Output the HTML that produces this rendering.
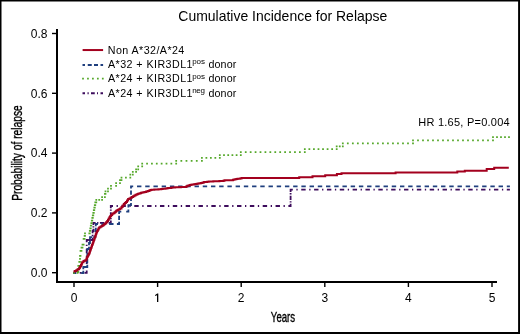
<!DOCTYPE html>
<html><head><meta charset="utf-8"><style>
html,body{margin:0;padding:0;background:#fff;}
body{width:520px;height:334px;overflow:hidden;}
svg{display:block;will-change:transform;}
text{font-family:"Liberation Sans",sans-serif;fill:#000;}
</style></head><body>
<svg width="520" height="334" viewBox="0 0 520 334">
<rect x="0" y="0" width="520" height="334" fill="#fff"/>
<path d="M0 0H520V334H0Z M1.5 1.5V332.1H518.1V1.5Z" fill="#000" fill-rule="evenodd"/>
<text x="178.3" y="20.7" font-size="14.4" textLength="209" lengthAdjust="spacingAndGlyphs">Cumulative Incidence for Relapse</text>
<!-- axes -->
<path d="M57 29 V282 H497" fill="none" stroke="#000" stroke-width="2"/>
<path d="M52 272.70 H57" stroke="#000" stroke-width="1.4"/>
<text x="47.5" y="277.00" font-size="12" text-anchor="end">0.0</text>
<path d="M52 212.90 H57" stroke="#000" stroke-width="1.4"/>
<text x="47.5" y="217.20" font-size="12" text-anchor="end">0.2</text>
<path d="M52 153.10 H57" stroke="#000" stroke-width="1.4"/>
<text x="47.5" y="157.40" font-size="12" text-anchor="end">0.4</text>
<path d="M52 93.30 H57" stroke="#000" stroke-width="1.4"/>
<text x="47.5" y="97.60" font-size="12" text-anchor="end">0.6</text>
<path d="M52 33.50 H57" stroke="#000" stroke-width="1.4"/>
<text x="47.5" y="37.80" font-size="12" text-anchor="end">0.8</text>
<path d="M74.00 282 V287" stroke="#000" stroke-width="1.4"/>
<text x="74.00" y="302" font-size="12" text-anchor="middle">0</text>
<path d="M157.60 282 V287" stroke="#000" stroke-width="1.4"/>
<path d="M158.3 293.4V302H157V295.2L155.1 296V295L157.3 293.4Z" fill="#000"/>
<path d="M241.20 282 V287" stroke="#000" stroke-width="1.4"/>
<text x="241.20" y="302" font-size="12" text-anchor="middle">2</text>
<path d="M324.80 282 V287" stroke="#000" stroke-width="1.4"/>
<text x="324.80" y="302" font-size="12" text-anchor="middle">3</text>
<path d="M408.40 282 V287" stroke="#000" stroke-width="1.4"/>
<text x="408.40" y="302" font-size="12" text-anchor="middle">4</text>
<path d="M492.00 282 V287" stroke="#000" stroke-width="1.4"/>
<text x="492.00" y="302" font-size="12" text-anchor="middle">5</text>
<text x="283" y="321.7" font-size="13.8" text-anchor="middle" stroke="#000" stroke-width="0.35" transform="translate(283 0) scale(0.70 1) translate(-283 0)">Years</text>
<text transform="translate(22.3 153.05) rotate(-90) scale(0.742 1)" x="0" y="0" font-size="13.8" text-anchor="middle" stroke="#000" stroke-width="0.35">Probability of relapse</text>
<g fill="none" stroke-linejoin="miter">
<path d="M73.10 271.90H76.20V273.70H73.10zM79.70 271.90H81.00V273.70H79.70zM84.50 271.90H87.60V273.70H84.50zM85.80 270.60H87.60V273.70H85.80zM85.80 266.68H87.60V267.98H85.80zM85.80 259.67H87.60V264.07H85.80zM85.80 255.75H87.60V257.05H85.80zM85.80 248.73H87.60V253.13H85.80zM85.80 244.82H87.60V246.12H85.80zM85.80 239.10H87.60V242.20H85.80zM85.80 239.10H88.90V240.90H85.80zM89.00 239.10H90.30V240.90H89.00zM90.40 239.10H93.50V240.90H90.40zM91.70 237.80H93.50V240.90H91.70zM91.70 234.85H93.50V236.15H91.70zM91.70 230.10H93.50V233.20H91.70zM91.70 230.10H94.30V231.90H91.70zM92.35 230.10H93.65V231.90H92.35zM91.70 230.10H94.30V231.90H91.70zM92.50 228.80H94.30V231.90H92.50zM92.50 226.25H94.30V227.55H92.50zM92.50 221.90H94.30V225.00H92.50zM92.50 221.90H95.60V223.70H92.50zM97.10 221.90H98.40V223.70H97.10zM99.90 221.90H104.30V223.70H99.90zM105.80 221.90H107.10V223.70H105.80zM108.60 221.90H111.70V223.70H108.60zM109.90 220.60H111.70V223.70H109.90zM109.90 217.95H111.70V219.25H109.90zM109.90 212.20H111.70V216.60H109.90zM109.90 209.55H111.70V210.85H109.90zM109.90 205.10H111.70V208.20H109.90zM109.90 205.10H113.00V206.90H109.90zM116.57 205.10H117.87V206.90H116.57zM121.44 205.10H125.84V206.90H121.44zM129.41 205.10H130.71V206.90H129.41zM134.29 205.10H138.69V206.90H134.29zM142.26 205.10H143.56V206.90H142.26zM147.13 205.10H151.53V206.90H147.13zM155.10 205.10H156.40V206.90H155.10zM159.97 205.10H164.37V206.90H159.97zM167.94 205.10H169.24V206.90H167.94zM172.81 205.10H177.21V206.90H172.81zM180.79 205.10H182.09V206.90H180.79zM185.66 205.10H190.06V206.90H185.66zM193.63 205.10H194.93V206.90H193.63zM198.50 205.10H202.90V206.90H198.50zM206.47 205.10H207.77V206.90H206.47zM211.34 205.10H215.74V206.90H211.34zM219.31 205.10H220.61V206.90H219.31zM224.19 205.10H228.59V206.90H224.19zM232.16 205.10H233.46V206.90H232.16zM237.03 205.10H241.43V206.90H237.03zM245.00 205.10H246.30V206.90H245.00zM249.87 205.10H254.27V206.90H249.87zM257.84 205.10H259.14V206.90H257.84zM262.71 205.10H267.11V206.90H262.71zM270.69 205.10H271.99V206.90H270.69zM275.56 205.10H279.96V206.90H275.56zM283.53 205.10H284.83V206.90H283.53zM288.40 205.10H291.50V206.90H288.40zM289.70 203.80H291.50V206.90H289.70zM289.70 201.28H291.50V202.57H289.70zM289.70 195.65H291.50V200.05H289.70zM289.70 193.12H291.50V194.42H289.70zM289.70 188.80H291.50V191.90H289.70zM289.70 188.80H292.80V190.60H289.70zM296.37 188.80H297.67V190.60H296.37zM301.25 188.80H305.65V190.60H301.25zM309.22 188.80H310.52V190.60H309.22zM314.09 188.80H318.49V190.60H314.09zM322.07 188.80H323.37V190.60H322.07zM326.94 188.80H331.34V190.60H326.94zM334.91 188.80H336.21V190.60H334.91zM339.79 188.80H344.19V190.60H339.79zM347.76 188.80H349.06V190.60H347.76zM352.64 188.80H357.04V190.60H352.64zM360.61 188.80H361.91V190.60H360.61zM365.48 188.80H369.88V190.60H365.48zM373.46 188.80H374.76V190.60H373.46zM378.33 188.80H382.73V190.60H378.33zM386.30 188.80H387.60V190.60H386.30zM391.18 188.80H395.58V190.60H391.18zM399.15 188.80H400.45V190.60H399.15zM404.02 188.80H408.42V190.60H404.02zM412.00 188.80H413.30V190.60H412.00zM416.87 188.80H421.27V190.60H416.87zM424.84 188.80H426.14V190.60H424.84zM429.72 188.80H434.12V190.60H429.72zM437.69 188.80H438.99V190.60H437.69zM442.56 188.80H446.96V190.60H442.56zM450.54 188.80H451.84V190.60H450.54zM455.41 188.80H459.81V190.60H455.41zM463.39 188.80H464.69V190.60H463.39zM468.26 188.80H472.66V190.60H468.26zM476.23 188.80H477.53V190.60H476.23zM481.11 188.80H485.51V190.60H481.11zM489.08 188.80H490.38V190.60H489.08zM493.95 188.80H498.35V190.60H493.95zM501.93 188.80H503.23V190.60H501.93zM506.80 188.80H509.90V190.60H506.80z" fill="#3d0c5c" stroke="none"/>
<path d="M73.10 272.10H76.20V273.90H73.10zM81.10 272.10H84.20V273.90H81.10zM82.40 270.80H84.20V273.90H82.40zM82.40 266.10H84.20V269.20H82.40zM82.40 266.10H85.50V267.90H82.40zM85.10 266.10H88.20V267.90H85.10zM86.40 264.80H88.20V267.90H86.40zM86.40 258.80H88.20V263.20H86.40zM86.40 252.80H88.20V257.20H86.40zM86.40 248.10H88.20V251.20H86.40zM86.40 248.10H89.50V249.90H86.40zM86.80 248.10H89.90V249.90H86.80zM88.10 246.80H89.90V249.90H88.10zM88.10 242.10H89.90V245.20H88.10zM88.10 242.10H90.90V243.90H88.10zM88.10 242.10H90.90V243.90H88.10zM89.10 240.80H90.90V243.90H89.10zM89.10 236.30H90.90V239.40H89.10zM89.10 236.30H92.20V238.10H89.10zM93.20 236.30H96.30V238.10H93.20zM94.50 235.00H96.30V238.10H94.50zM94.50 229.10H96.30V232.20H94.50zM94.50 229.10H96.70V230.90H94.50zM94.50 229.10H96.70V230.90H94.50zM94.90 227.80H96.70V230.90H94.90zM94.90 223.10H96.70V226.20H94.90zM94.90 223.10H98.00V224.90H94.90zM101.37 223.10H105.77V224.90H101.37zM109.13 223.10H113.53V224.90H109.13zM116.90 223.10H120.00V224.90H116.90zM118.20 221.80H120.00V224.90H118.20zM118.20 215.65H120.00V220.05H118.20zM118.20 210.80H120.00V213.90H118.20zM118.20 210.80H121.30V212.60H118.20zM126.20 210.80H129.30V212.60H126.20zM127.50 209.50H129.30V212.60H127.50zM127.50 204.30H129.30V207.40H127.50zM127.50 204.30H130.60V206.10H127.50zM128.80 204.30H131.90V206.10H128.80zM130.10 203.00H131.90V206.10H130.10zM130.10 196.70H131.90V201.10H130.10zM130.10 190.40H131.90V194.80H130.10zM130.10 185.40H131.90V188.50H130.10zM130.10 185.40H133.20V187.20H130.10zM137.02 185.40H141.42V187.20H137.02zM145.23 185.40H149.63V187.20H145.23zM153.45 185.40H157.85V187.20H153.45zM161.67 185.40H166.07V187.20H161.67zM169.89 185.40H174.29V187.20H169.89zM178.10 185.40H182.50V187.20H178.10zM186.32 185.40H190.72V187.20H186.32zM194.54 185.40H198.94V187.20H194.54zM202.76 185.40H207.16V187.20H202.76zM210.97 185.40H215.37V187.20H210.97zM219.19 185.40H223.59V187.20H219.19zM227.41 185.40H231.81V187.20H227.41zM235.63 185.40H240.03V187.20H235.63zM243.84 185.40H248.24V187.20H243.84zM252.06 185.40H256.46V187.20H252.06zM260.28 185.40H264.68V187.20H260.28zM268.50 185.40H272.90V187.20H268.50zM276.71 185.40H281.11V187.20H276.71zM284.93 185.40H289.33V187.20H284.93zM293.15 185.40H297.55V187.20H293.15zM301.37 185.40H305.77V187.20H301.37zM309.58 185.40H313.98V187.20H309.58zM317.80 185.40H322.20V187.20H317.80zM326.02 185.40H330.42V187.20H326.02zM334.23 185.40H338.63V187.20H334.23zM342.45 185.40H346.85V187.20H342.45zM350.67 185.40H355.07V187.20H350.67zM358.89 185.40H363.29V187.20H358.89zM367.10 185.40H371.50V187.20H367.10zM375.32 185.40H379.72V187.20H375.32zM383.54 185.40H387.94V187.20H383.54zM391.76 185.40H396.16V187.20H391.76zM399.97 185.40H404.37V187.20H399.97zM408.19 185.40H412.59V187.20H408.19zM416.41 185.40H420.81V187.20H416.41zM424.63 185.40H429.03V187.20H424.63zM432.84 185.40H437.24V187.20H432.84zM441.06 185.40H445.46V187.20H441.06zM449.28 185.40H453.68V187.20H449.28zM457.50 185.40H461.90V187.20H457.50zM465.71 185.40H470.11V187.20H465.71zM473.93 185.40H478.33V187.20H473.93zM482.15 185.40H486.55V187.20H482.15zM490.37 185.40H494.77V187.20H490.37zM498.58 185.40H502.98V187.20H498.58zM506.80 185.40H509.90V187.20H506.80z" fill="#1f3f7e" stroke="none"/>
<path d="M73.12 272.12h1.75v1.75h-1.75zM76.72 272.12h1.75v1.75h-1.75zM76.72 272.12h1.75v1.75h-1.75zM76.72 271.12h1.75v1.75h-1.75zM76.72 271.12h1.75v1.75h-1.75zM77.42 271.12h1.75v1.75h-1.75zM77.42 271.12h1.75v1.75h-1.75zM77.42 268.12h1.75v1.75h-1.75zM77.42 265.12h1.75v1.75h-1.75zM77.42 265.12h1.75v1.75h-1.75zM78.42 265.12h1.75v1.75h-1.75zM78.42 265.12h1.75v1.75h-1.75zM78.42 261.12h1.75v1.75h-1.75zM78.42 261.12h1.75v1.75h-1.75zM79.12 261.12h1.75v1.75h-1.75zM79.12 261.12h1.75v1.75h-1.75zM79.12 258.12h1.75v1.75h-1.75zM79.12 255.12h1.75v1.75h-1.75zM79.12 255.12h1.75v1.75h-1.75zM79.62 255.12h1.75v1.75h-1.75zM79.62 255.12h1.75v1.75h-1.75zM79.62 250.12h1.75v1.75h-1.75zM79.62 250.12h1.75v1.75h-1.75zM80.62 250.12h1.75v1.75h-1.75zM80.62 250.12h1.75v1.75h-1.75zM80.62 246.72h1.75v1.75h-1.75zM80.62 246.72h1.75v1.75h-1.75zM81.62 246.72h1.75v1.75h-1.75zM81.62 246.72h1.75v1.75h-1.75zM81.62 243.82h1.75v1.75h-1.75zM81.62 243.82h1.75v1.75h-1.75zM82.72 243.82h1.75v1.75h-1.75zM82.72 243.82h1.75v1.75h-1.75zM82.72 238.12h1.75v1.75h-1.75zM82.72 238.12h1.75v1.75h-1.75zM83.72 238.12h1.75v1.75h-1.75zM83.72 238.12h1.75v1.75h-1.75zM83.72 235.12h1.75v1.75h-1.75zM83.72 235.12h1.75v1.75h-1.75zM84.12 235.12h1.75v1.75h-1.75zM84.12 235.12h1.75v1.75h-1.75zM84.12 232.53h1.75v1.75h-1.75zM84.12 232.53h1.75v1.75h-1.75zM88.42 232.53h1.75v1.75h-1.75zM88.42 232.53h1.75v1.75h-1.75zM88.92 232.53h1.75v1.75h-1.75zM88.92 232.53h1.75v1.75h-1.75zM88.92 229.96h1.75v1.75h-1.75zM88.92 229.96h1.75v1.75h-1.75zM89.42 229.96h1.75v1.75h-1.75zM89.42 229.96h1.75v1.75h-1.75zM89.42 227.38h1.75v1.75h-1.75zM89.42 227.38h1.75v1.75h-1.75zM89.92 227.38h1.75v1.75h-1.75zM89.92 227.38h1.75v1.75h-1.75zM89.92 224.81h1.75v1.75h-1.75zM89.92 224.81h1.75v1.75h-1.75zM90.42 224.81h1.75v1.75h-1.75zM90.42 224.81h1.75v1.75h-1.75zM90.42 222.22h1.75v1.75h-1.75zM90.42 222.22h1.75v1.75h-1.75zM90.92 222.22h1.75v1.75h-1.75zM90.92 222.22h1.75v1.75h-1.75zM90.92 219.66h1.75v1.75h-1.75zM90.92 219.66h1.75v1.75h-1.75zM91.42 219.66h1.75v1.75h-1.75zM91.42 219.66h1.75v1.75h-1.75zM91.42 217.07h1.75v1.75h-1.75zM91.42 217.07h1.75v1.75h-1.75zM91.92 217.07h1.75v1.75h-1.75zM91.92 217.07h1.75v1.75h-1.75zM91.92 214.50h1.75v1.75h-1.75zM91.92 214.50h1.75v1.75h-1.75zM92.42 214.50h1.75v1.75h-1.75zM92.42 214.50h1.75v1.75h-1.75zM92.42 211.93h1.75v1.75h-1.75zM92.42 211.93h1.75v1.75h-1.75zM92.92 211.93h1.75v1.75h-1.75zM92.92 211.93h1.75v1.75h-1.75zM92.92 209.34h1.75v1.75h-1.75zM92.92 209.34h1.75v1.75h-1.75zM93.42 209.34h1.75v1.75h-1.75zM93.42 209.34h1.75v1.75h-1.75zM93.42 206.78h1.75v1.75h-1.75zM93.42 206.78h1.75v1.75h-1.75zM93.92 206.78h1.75v1.75h-1.75zM93.92 206.78h1.75v1.75h-1.75zM93.92 204.19h1.75v1.75h-1.75zM93.92 204.19h1.75v1.75h-1.75zM94.42 204.19h1.75v1.75h-1.75zM94.42 204.19h1.75v1.75h-1.75zM94.42 201.62h1.75v1.75h-1.75zM94.42 201.62h1.75v1.75h-1.75zM95.42 201.62h1.75v1.75h-1.75zM95.42 201.62h1.75v1.75h-1.75zM95.42 199.12h1.75v1.75h-1.75zM95.42 199.12h1.75v1.75h-1.75zM98.32 199.12h1.75v1.75h-1.75zM101.22 199.12h1.75v1.75h-1.75zM101.22 199.12h1.75v1.75h-1.75zM101.22 196.32h1.75v1.75h-1.75zM101.22 196.32h1.75v1.75h-1.75zM104.03 196.32h1.75v1.75h-1.75zM104.03 196.32h1.75v1.75h-1.75zM104.03 193.03h1.75v1.75h-1.75zM104.03 193.03h1.75v1.75h-1.75zM104.62 193.03h1.75v1.75h-1.75zM104.62 193.03h1.75v1.75h-1.75zM104.62 190.53h1.75v1.75h-1.75zM104.62 190.53h1.75v1.75h-1.75zM107.12 190.53h1.75v1.75h-1.75zM107.12 190.53h1.75v1.75h-1.75zM107.12 187.82h1.75v1.75h-1.75zM107.12 187.82h1.75v1.75h-1.75zM110.12 187.82h1.75v1.75h-1.75zM110.12 187.82h1.75v1.75h-1.75zM110.12 185.12h1.75v1.75h-1.75zM110.12 185.12h1.75v1.75h-1.75zM115.22 185.12h1.75v1.75h-1.75zM115.22 185.12h1.75v1.75h-1.75zM115.22 182.32h1.75v1.75h-1.75zM115.22 182.32h1.75v1.75h-1.75zM119.12 182.32h1.75v1.75h-1.75zM119.12 182.32h1.75v1.75h-1.75zM119.12 179.32h1.75v1.75h-1.75zM119.12 179.32h1.75v1.75h-1.75zM120.62 179.32h1.75v1.75h-1.75zM120.62 179.32h1.75v1.75h-1.75zM120.62 176.82h1.75v1.75h-1.75zM120.62 176.82h1.75v1.75h-1.75zM125.03 176.82h1.75v1.75h-1.75zM129.43 176.82h1.75v1.75h-1.75zM129.43 176.82h1.75v1.75h-1.75zM129.43 173.72h1.75v1.75h-1.75zM129.43 173.72h1.75v1.75h-1.75zM131.93 173.72h1.75v1.75h-1.75zM131.93 173.72h1.75v1.75h-1.75zM131.93 171.03h1.75v1.75h-1.75zM131.93 171.03h1.75v1.75h-1.75zM135.22 171.03h1.75v1.75h-1.75zM135.22 171.03h1.75v1.75h-1.75zM135.22 168.43h1.75v1.75h-1.75zM135.22 168.43h1.75v1.75h-1.75zM137.32 168.43h1.75v1.75h-1.75zM137.32 168.43h1.75v1.75h-1.75zM137.32 165.43h1.75v1.75h-1.75zM137.32 165.43h1.75v1.75h-1.75zM141.32 165.43h1.75v1.75h-1.75zM141.32 165.43h1.75v1.75h-1.75zM141.32 162.72h1.75v1.75h-1.75zM141.32 162.72h1.75v1.75h-1.75zM146.18 162.72h1.75v1.75h-1.75zM151.04 162.72h1.75v1.75h-1.75zM155.90 162.72h1.75v1.75h-1.75zM160.75 162.72h1.75v1.75h-1.75zM165.61 162.72h1.75v1.75h-1.75zM170.47 162.72h1.75v1.75h-1.75zM175.32 162.72h1.75v1.75h-1.75zM175.32 162.72h1.75v1.75h-1.75zM175.32 159.93h1.75v1.75h-1.75zM175.32 159.93h1.75v1.75h-1.75zM180.47 159.93h1.75v1.75h-1.75zM185.60 159.93h1.75v1.75h-1.75zM190.75 159.93h1.75v1.75h-1.75zM195.88 159.93h1.75v1.75h-1.75zM201.03 159.93h1.75v1.75h-1.75zM201.03 159.93h1.75v1.75h-1.75zM201.03 157.12h1.75v1.75h-1.75zM201.03 157.12h1.75v1.75h-1.75zM205.50 157.12h1.75v1.75h-1.75zM209.98 157.12h1.75v1.75h-1.75zM214.45 157.12h1.75v1.75h-1.75zM218.93 157.12h1.75v1.75h-1.75zM218.93 157.12h1.75v1.75h-1.75zM218.93 154.22h1.75v1.75h-1.75zM218.93 154.22h1.75v1.75h-1.75zM223.12 154.22h1.75v1.75h-1.75zM227.33 154.22h1.75v1.75h-1.75zM231.53 154.22h1.75v1.75h-1.75zM235.73 154.22h1.75v1.75h-1.75zM239.93 154.22h1.75v1.75h-1.75zM239.93 154.22h1.75v1.75h-1.75zM239.93 151.32h1.75v1.75h-1.75zM239.93 151.32h1.75v1.75h-1.75zM244.85 151.32h1.75v1.75h-1.75zM249.77 151.32h1.75v1.75h-1.75zM254.69 151.32h1.75v1.75h-1.75zM259.62 151.32h1.75v1.75h-1.75zM264.54 151.32h1.75v1.75h-1.75zM269.46 151.32h1.75v1.75h-1.75zM274.39 151.32h1.75v1.75h-1.75zM279.31 151.32h1.75v1.75h-1.75zM284.23 151.32h1.75v1.75h-1.75zM289.16 151.32h1.75v1.75h-1.75zM294.08 151.32h1.75v1.75h-1.75zM299.00 151.32h1.75v1.75h-1.75zM303.93 151.32h1.75v1.75h-1.75zM303.93 151.32h1.75v1.75h-1.75zM303.93 148.22h1.75v1.75h-1.75zM303.93 148.22h1.75v1.75h-1.75zM308.48 148.22h1.75v1.75h-1.75zM313.04 148.22h1.75v1.75h-1.75zM317.60 148.22h1.75v1.75h-1.75zM322.15 148.22h1.75v1.75h-1.75zM326.71 148.22h1.75v1.75h-1.75zM331.27 148.22h1.75v1.75h-1.75zM335.82 148.22h1.75v1.75h-1.75zM335.82 148.22h1.75v1.75h-1.75zM335.82 145.43h1.75v1.75h-1.75zM335.82 145.43h1.75v1.75h-1.75zM338.88 145.43h1.75v1.75h-1.75zM341.93 145.43h1.75v1.75h-1.75zM341.93 145.43h1.75v1.75h-1.75zM341.93 142.53h1.75v1.75h-1.75zM341.93 142.53h1.75v1.75h-1.75zM346.94 142.53h1.75v1.75h-1.75zM351.95 142.53h1.75v1.75h-1.75zM356.97 142.53h1.75v1.75h-1.75zM361.98 142.53h1.75v1.75h-1.75zM367.00 142.53h1.75v1.75h-1.75zM372.01 142.53h1.75v1.75h-1.75zM377.02 142.53h1.75v1.75h-1.75zM382.04 142.53h1.75v1.75h-1.75zM387.05 142.53h1.75v1.75h-1.75zM392.07 142.53h1.75v1.75h-1.75zM397.08 142.53h1.75v1.75h-1.75zM402.10 142.53h1.75v1.75h-1.75zM407.11 142.53h1.75v1.75h-1.75zM412.12 142.53h1.75v1.75h-1.75zM412.12 142.53h1.75v1.75h-1.75zM412.12 139.53h1.75v1.75h-1.75zM412.12 139.53h1.75v1.75h-1.75zM417.12 139.53h1.75v1.75h-1.75zM422.12 139.53h1.75v1.75h-1.75zM427.12 139.53h1.75v1.75h-1.75zM432.12 139.53h1.75v1.75h-1.75zM437.12 139.53h1.75v1.75h-1.75zM442.12 139.53h1.75v1.75h-1.75zM447.12 139.53h1.75v1.75h-1.75zM452.12 139.53h1.75v1.75h-1.75zM457.12 139.53h1.75v1.75h-1.75zM462.12 139.53h1.75v1.75h-1.75zM467.12 139.53h1.75v1.75h-1.75zM472.12 139.53h1.75v1.75h-1.75zM477.12 139.53h1.75v1.75h-1.75zM482.12 139.53h1.75v1.75h-1.75zM487.12 139.53h1.75v1.75h-1.75zM492.12 139.53h1.75v1.75h-1.75zM492.12 139.53h1.75v1.75h-1.75zM492.12 136.22h1.75v1.75h-1.75zM492.12 136.22h1.75v1.75h-1.75zM496.12 136.22h1.75v1.75h-1.75zM500.12 136.22h1.75v1.75h-1.75zM504.12 136.22h1.75v1.75h-1.75zM508.12 136.22h1.75v1.75h-1.75z" fill="#55a82a" stroke="none"/>
<path d="M73.4 271.6H74.85V270.95H76.30V270.30H77.40V269.60H78.50V268.90H79.20V268.00H79.90V267.10H80.45V266.05H81.00V265.00H81.55V263.65H82.10V262.30H83.50V261.10H84.40V260.70H85.30V260.30H86.40V258.80H86.75V257.90H87.10V257.00H87.65V255.95H88.20V254.90H88.75V254.00H89.30V253.10H89.67V251.87H90.03V250.63H90.40V249.40H90.93V247.97H91.45V246.55H91.97V245.12H92.50V243.70H92.95V242.42H93.40V241.15H93.85V239.88H94.30V238.60H94.80V237.17H95.30V235.73H95.80V234.30H96.23V233.20H96.67V232.10H97.10V231.00H97.77V229.80H98.43V228.60H99.10V227.40H100.30V226.70H101.50V226.00H102.70V225.30H103.85V224.35H105.00V223.40H106.10V222.20H107.20V221.00H108.00V219.70H108.80V218.40H109.45V217.30H110.10V216.20H111.15V214.95H112.20V213.70H113.30V213.15H114.40V212.60H115.30V211.70H116.20V210.80H117.10V210.25H118.00V209.70H119.05V209.15H120.10V208.60H121.50V207.00H122.65V205.55H123.80V204.10H124.85V203.05H125.90V202.00H127.00V200.55H128.10V199.10H129.35V198.40H130.60V197.70H131.85V196.95H133.10V196.20H134.35V195.50H135.60V194.80H136.85V194.25H138.10V193.70H139.55V193.20H141.00V192.70H142.20V192.50H143.40V192.30H144.60V192.10H146.13V191.53H147.67V190.97H149.20V190.40H150.35V190.10H151.50V189.80H152.90V189.70H154.30V189.60H155.70V189.50H157.10V189.40H158.50V189.30H159.88V189.14H161.26V188.98H162.64V188.82H164.02V188.66H165.40V188.50H166.78V188.30H168.16V188.10H169.54V187.90H170.92V187.70H172.30V187.50H173.75V187.43H175.20V187.35H176.65V187.27H178.10V187.20H179.48V187.16H180.86V187.12H182.24V187.08H183.62V187.04H185.00V187.00H186.15V186.40H187.30V185.80H188.47V185.43H189.63V185.07H190.80V184.70H192.33V184.50H193.87V184.30H195.40V184.10H196.77V183.83H198.13V183.57H199.50V183.30H201.03V182.90H202.57V182.50H204.10V182.10H205.63V181.90H207.17V181.70H208.70V181.50H210.23V181.44H211.77V181.39H213.30V181.33H214.83V181.28H216.37V181.22H217.90V181.17H219.43V181.11H220.97V181.06H222.50V181.00H223.70V180.40H225.05V180.37H226.40V180.33H227.75V180.30H229.10V180.27H230.45V180.23H231.80V180.20H232.93V179.87H234.07V179.53H235.20V179.20H236.37V179.03H237.53V178.87H238.70V178.70H239.83V178.50H240.97V178.30H242.10V178.10H299.2V177.3H312.5V176.3H325.2V175.2H336.9V174.1H341.5V173.3H395.6V172.4H457.3V171.6H464.8V170.7H486.7V169H494.2V167.8H508.8" stroke="#a3001e" stroke-width="2"/>
</g>
<path d="M82.6 50.05H103.1" stroke="#a3001e" stroke-width="2"/>
<text x="107.8" y="53.50" font-size="10.7" textLength="76.5">Non A*32/A*24</text>
<path d="M82.5 65H85M87.75 65H91.75M94 65H98M100.5 65H103.1" stroke="#1f3f7e" stroke-width="1.9"/>
<text x="108" y="67.70" font-size="10.7" textLength="84.5">A*32 + KIR3DL1</text>
<text x="192.2" y="64.30" font-size="8" textLength="12.8">pos</text>
<text x="208.4" y="67.70" font-size="10.7" textLength="28">donor</text>
<path d="M83 78.6H103" stroke="#55a82a" stroke-width="1.75" stroke-dasharray="0 4.95" stroke-linecap="square"/>
<text x="108" y="82.10" font-size="10.7" textLength="84.5">A*24 + KIR3DL1</text>
<text x="192.2" y="78.70" font-size="8" textLength="12.8">pos</text>
<text x="208.4" y="82.10" font-size="10.7" textLength="28">donor</text>
<path d="M82.5 93.25H85M87.5 93.25H88.7M91 93.25H94.75M97 93.25H98M100.5 93.25H103" stroke="#3d0c5c" stroke-width="1.9"/>
<text x="108" y="96.60" font-size="10.7" textLength="84.5">A*24 + KIR3DL1</text>
<text x="192.2" y="93.20" font-size="8" textLength="12.8">neg</text>
<text x="208.4" y="96.60" font-size="10.7" textLength="28">donor</text>
<text x="418.2" y="125.9" font-size="11" textLength="91.5">HR 1.65, P=0.004</text>
</svg>
</body></html>
